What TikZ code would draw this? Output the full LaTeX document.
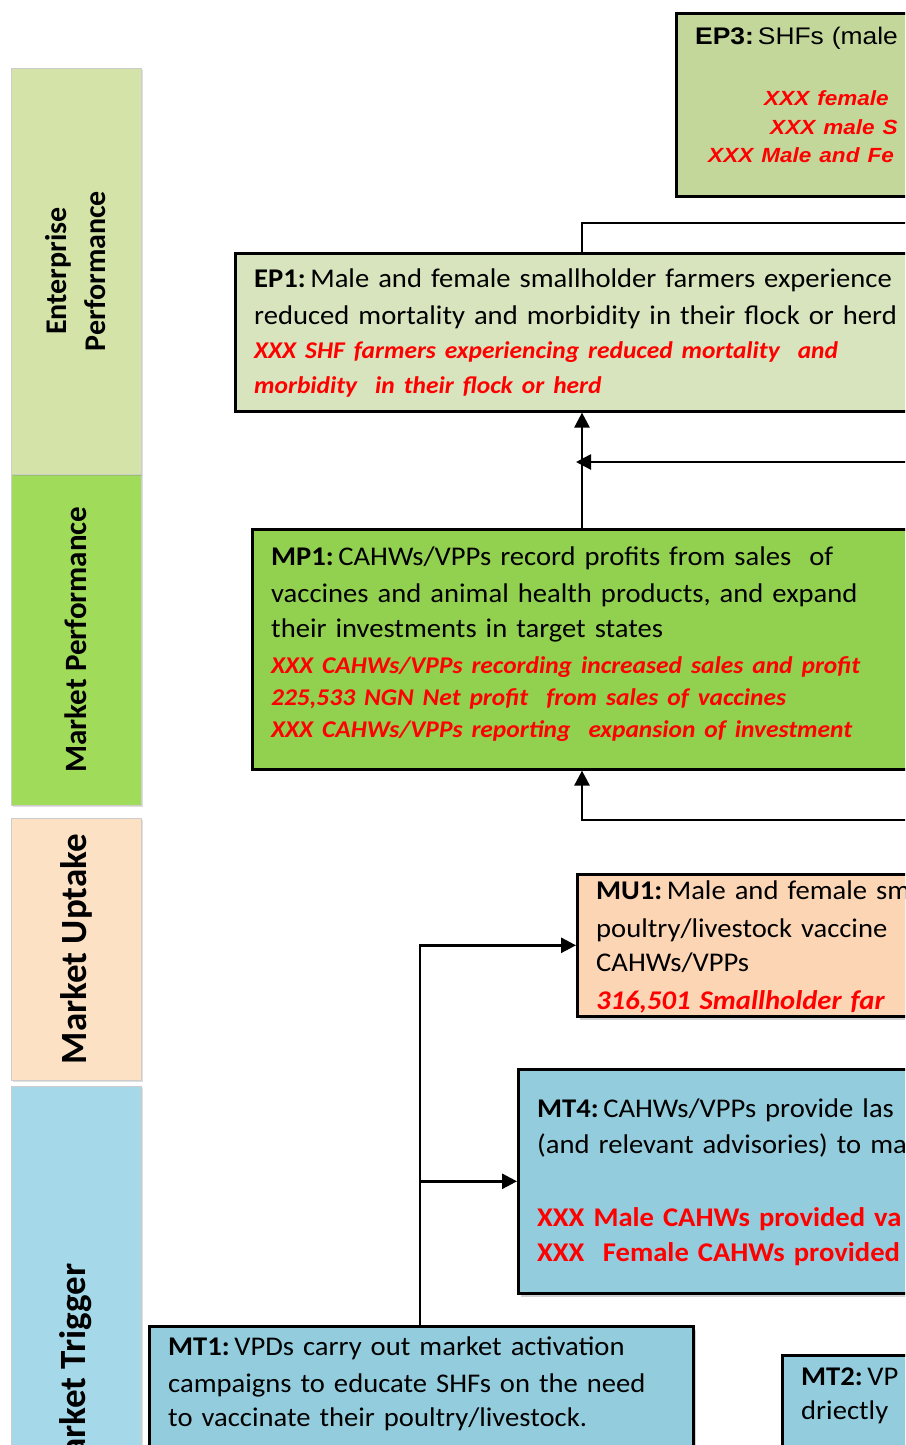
\documentclass[tikz,border=0pt]{standalone}
\usepackage{fontspec}
\setmainfont{Carlito}[FakeStretch=1.06]
\newfontfamily\bandfont{Carlito}
\newfontfamily\arialfont{Liberation Sans}[FakeStretch=1.1]
\usepackage{tikz}
\usetikzlibrary{arrows.meta}
\usetikzlibrary{positioning,shadows}
\definecolor{epband}{RGB}{212,228,168}
\definecolor{mpband}{RGB}{160,220,90}
\definecolor{muband}{RGB}{253,225,196}
\definecolor{mtband}{RGB}{165,217,234}
\definecolor{epdark}{RGB}{196,215,155}
\definecolor{eplight}{RGB}{215,228,189}
\definecolor{mpfill}{RGB}{146,208,80}
\definecolor{mufill}{RGB}{252,213,181}
\definecolor{mtfill}{RGB}{147,205,221}
\tikzset{
    levelband/.style={
        draw=black!20,
        rotate=90,
        minimum height=130pt,
        inner sep=0pt,
        align=center,
        drop shadow={opacity=0.25, shadow xshift=2pt, shadow yshift=-2pt}
    },
    stagebox/.style={
        draw,
        line width=2.6pt,
        anchor=north west,
        inner sep=0pt
    },
    boxtext/.style={
        anchor=north west,
        inner sep=0pt,
        text width=700pt,
        align=left,
        font=\fontsize{27}{36}\selectfont
    },
    softshadow/.style={
        drop shadow={opacity=0.35, shadow xshift=3pt, shadow yshift=-4pt}
    },
    connector/.style={
        draw,
        line width=2.7pt,
        -{Triangle[length=15pt, width=15pt]}
    }
}
\newcommand{\redfig}[1]{{\color{red}\bfseries\itshape #1}}
\newcommand{\redbold}[1]{{\color{red}\bfseries #1}}

\begin{document}
\begin{tikzpicture}[x=1pt, y=-1pt]
  \useasboundingbox (0,0) rectangle (905,1445);
  \clip (0,0) rectangle (905,1445);
  \fill[white] (0,0) rectangle (905,1445);

  % Result levels on the left
  \node[levelband, fill=mtband, minimum width=581pt, font=\bandfont\bfseries\fontsize{37}{44}\selectfont] (mt) at (76,1376.5) {Market Trigger};
  \node[levelband, fill=muband, minimum width=262pt, font=\bandfont\bfseries\fontsize{37}{44}\selectfont] (mu) at (76,949) {Market Uptake};
  \node[levelband, fill=mpband, minimum width=331pt, font=\bandfont\bfseries\fontsize{31}{38}\selectfont] (mp) at (76,639.5) {Market Performance};
  \node[levelband, fill=epband, minimum width=406pt, font=\bandfont\bfseries\fontsize{30}{39}\selectfont] (ep) at (76,271) {Enterprise\\Performance};

  % Enterprise performance
  \node[stagebox, fill=epdark, minimum width=400pt, minimum height=183pt] (ep3) at (675,12) {};
  \node[boxtext, font=\arialfont\fontsize{24}{28.5}\selectfont] (ep3txt) at ([xshift=20pt, yshift=-15pt]ep3.north west)
    {\textbf{EP3:}\,SHFs (male\\[32.5pt]
     {\fontsize{20.5}{28.5}\selectfont\redfig{\hspace*{69pt}XXX female\\
     \hspace*{75pt}XXX male S\\
     \hspace*{13pt}XXX Male and Fe}}};

  \node[stagebox, fill=eplight, minimum width=800pt, minimum height=158pt] (ep1) at (234,252) {};
  \node[boxtext] (ep1txt) at ([xshift=20pt, yshift=-17pt]ep1.north west)
    {\textbf{EP1:}\,Male and female smallholder farmers experience\\[1pt]
     reduced mortality and morbidity in their flock or herd\\[-2pt]
     {\fontsize{24}{36}\selectfont\redfig{XXX SHF farmers experiencing reduced mortality~ and\\[-1pt]
     morbidity~ in their flock or herd}}};

  % Market performance
  \node[stagebox, fill=mpfill, minimum width=800pt, minimum height=240pt] (mp1) at (251,528) {};
  \node[boxtext] (mp1txt) at ([xshift=20pt, yshift=-19pt]mp1.north west)
    {\textbf{MP1:}\,CAHWs/VPPs record profits from sales~ of\\[1pt]
     vaccines and animal health products, and expand\\[-1pt]
     their investments in target states\\
     {\fontsize{24}{36}\selectfont\redfig{XXX CAHWs/VPPs recording increased sales and profit\\[-4pt]
     225,533 NGN Net profit~ from sales of vaccines\\[-4pt]
     XXX CAHWs/VPPs reporting~ expansion of investment}}};

  % Market uptake
  \node[stagebox, fill=mufill, softshadow, minimum width=500pt, minimum height=142pt] (mu1) at (576,873) {};
  \node[boxtext] (mu1txt) at ([xshift=20pt, yshift=-8pt]mu1.north west)
    {\textbf{MU1:}\,Male and female sm\\[2pt]
     poultry/livestock vaccine\\[-2pt]
     CAHWs/VPPs\\[2pt]
     \redfig{316,501 Smallholder far}};

  % Market trigger
  \node[stagebox, fill=mtfill, softshadow, minimum width=500pt, minimum height=224pt] (mt4) at (517,1068) {};
  \node[boxtext] (mt4txt) at ([xshift=20pt, yshift=-31pt]mt4.north west)
    {\textbf{MT4:}\,CAHWs/VPPs provide las\\
     (and relevant advisories) to ma\\[37pt]
     \redbold{XXX Male CAHWs provided va\\[-1pt]
     XXX\hspace{0.35em} Female CAHWs provided}};

  \node[stagebox, fill=mtfill, softshadow, minimum width=544pt, minimum height=200pt] (mt1) at (148,1325) {};
  \node[boxtext] (mt1txt) at ([xshift=20pt, yshift=-12pt]mt1.north west)
    {\textbf{MT1:}\,VPDs carry out market activation\\[1pt]
     campaigns to educate SHFs on the need\\[-2pt]
     to vaccinate their poultry/livestock.};

  \node[stagebox, fill=mtfill, softshadow, minimum width=300pt, minimum height=200pt] (mt2) at (781,1354) {};
  \node[boxtext] (mt2txt) at ([xshift=20pt, yshift=-14pt]mt2.north west)
    {\textbf{MT2:}\,VP\\[-2pt]
     driectly};

  % Connectors
  \coordinate (spine) at (582,0);
  \coordinate (trunk) at (420,0);
  \coordinate (toep) at (910,223);
  \coordinate (fromright) at (910,462);
  \coordinate (frombelow) at (910,820);

  \draw[line width=2.7pt] (ep1.north -| spine) |- (toep);
  \draw[connector] (mp1.north -| spine) -- (ep1.south -| spine);
  \draw[connector] (fromright) -- ([xshift=-6pt]fromright -| spine);
  \draw[connector] (frombelow) -| (mp1.south -| spine);
  \draw[connector] (mt1.north -| trunk) |- (mu1.west);
  \draw[connector] (mt4.west -| trunk) -- (mt4.west);
\end{tikzpicture}
\end{document}
